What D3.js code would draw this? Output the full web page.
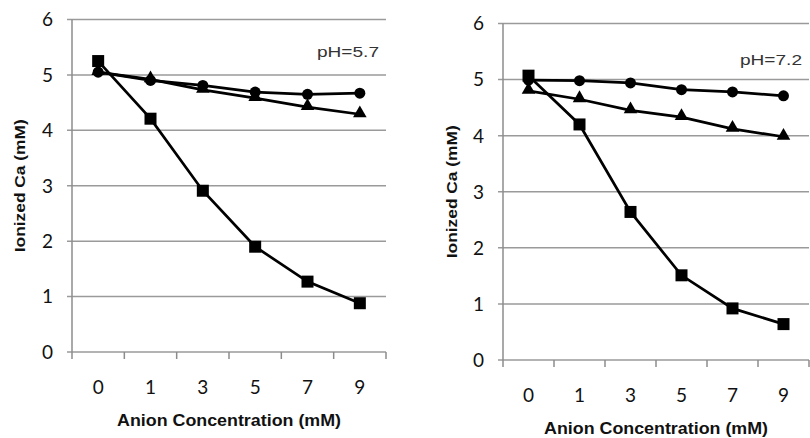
<!DOCTYPE html>
<html>
<head>
<meta charset="utf-8">
<script src="https://cdn.jsdelivr.net/npm/d3@7"></script>
<style>
  body { margin: 0; background: #fff; }
  svg { display: block; }
</style>
</head>
<body>
<svg id="chart" width="810" height="438"></svg>
<script>
// data
var categories = ["0", "1", "3", "5", "7", "9"];
var yTicks = [0, 1, 2, 3, 4, 5, 6];

var ph57Squares = [5.25, 4.21, 2.91, 1.9, 1.27, 0.88];
var ph57Circles = [5.05, 4.9, 4.81, 4.69, 4.65, 4.67];
var ph57Triangles = [5.05, 4.92, 4.73, 4.58, 4.42, 4.29];

var ph72Squares = [5.07, 4.2, 2.64, 1.51, 0.92, 0.64];
var ph72Circles = [4.99, 4.98, 4.94, 4.82, 4.78, 4.71];
var ph72Triangles = [4.8, 4.65, 4.45, 4.33, 4.12, 3.98];

var svg = d3.select("#chart");

function drawPanel(o) {
  var g = svg.append("g");

  var x = d3.scaleBand()
    .domain(categories)
    .range([o.left, o.right]);

  var y = d3.scaleLinear()
    .domain([0, 6])
    .range([o.bottom, o.top]);

  // horizontal gridlines
  g.selectAll("line.grid")
    .data(yTicks)
    .enter()
    .append("line")
    .attr("class", "grid")
    .attr("x1", o.left - 5)
    .attr("x2", o.right)
    .attr("y1", function(d) { return y(d); })
    .attr("y2", function(d) { return y(d); })
    .attr("stroke", "#9a9a9a")
    .attr("stroke-width", 1.5);

  // y axis line
  g.append("line")
    .attr("x1", o.left).attr("x2", o.left)
    .attr("y1", y(6)).attr("y2", y(0))
    .attr("stroke", "#8c8c8c")
    .attr("stroke-width", 1.5);

  // y tick labels
  g.selectAll("text.ylab")
    .data(yTicks)
    .enter()
    .append("text")
    .attr("class", "ylab")
    .attr("x", o.left - 19)
    .attr("y", function(d) { return y(d); })
    .attr("dy", "0.36em")
    .attr("text-anchor", "end")
    .attr("font-family", "Lato, 'Open Sans', sans-serif")
    .attr("font-size", 19)
    .attr("fill", "#111")
    .text(function(d) { return d; });

  // x ticks at band edges
  var edges = categories.map(function(c) { return x(c); }).concat([o.right]);
  g.selectAll("line.xtick")
    .data(edges)
    .enter()
    .append("line")
    .attr("class", "xtick")
    .attr("x1", function(d) { return d; })
    .attr("x2", function(d) { return d; })
    .attr("y1", y(0))
    .attr("y2", y(0) + 7)
    .attr("stroke", "#8c8c8c")
    .attr("stroke-width", 1.5);

  // x tick labels
  g.selectAll("text.xlab")
    .data(categories)
    .enter()
    .append("text")
    .attr("class", "xlab")
    .attr("x", function(d) { return x(d) + x.bandwidth() / 2; })
    .attr("y", y(0) + 35)
    .attr("dy", "0.36em")
    .attr("text-anchor", "middle")
    .attr("font-family", "Lato, 'Open Sans', sans-serif")
    .attr("font-size", 19)
    .attr("fill", "#111")
    .text(function(d) { return d; });

  // axis titles
  g.append("text")
    .attr("x", (o.left + o.right) / 2)
    .attr("y", y(0) + 68)
    .attr("dy", "0.36em")
    .attr("text-anchor", "middle")
    .attr("font-family", "'Liberation Sans', Arial, sans-serif")
    .attr("font-weight", "bold")
    .attr("font-size", 16)
    .attr("textLength", 224)
    .attr("lengthAdjust", "spacingAndGlyphs")
    .attr("fill", "#111")
    .text("Anion Concentration (mM)");

  g.append("text")
    .attr("transform", "translate(" + o.ytitleX + "," + ((y(0) + y(6)) / 2) + ") rotate(-90)")
    .attr("dy", "0.36em")
    .attr("text-anchor", "middle")
    .attr("font-family", "'Liberation Sans', Arial, sans-serif")
    .attr("font-weight", "bold")
    .attr("font-size", 15)
    .attr("textLength", 133)
    .attr("lengthAdjust", "spacingAndGlyphs")
    .attr("fill", "#111")
    .text("Ionized Ca (mM)");

  // pH label
  g.append("text")
    .attr("x", o.right - 7)
    .attr("y", y(o.labelY))
    .attr("dy", "0.36em")
    .attr("text-anchor", "end")
    .attr("font-family", "'Liberation Sans', Arial, sans-serif")
    .attr("font-size", 15)
    .attr("textLength", 62)
    .attr("lengthAdjust", "spacingAndGlyphs")
    .attr("fill", "#333")
    .text(o.label);

  var cx = function(d, i) { return x(categories[i]) + x.bandwidth() / 2; };

  var line = d3.line()
    .x(function(d, i) { return cx(d, i); })
    .y(function(d) { return y(d); });

  [o.triangles, o.circles, o.squares].forEach(function(s) {
    g.append("path")
      .datum(s)
      .attr("d", line)
      .attr("fill", "none")
      .attr("stroke", "#000")
      .attr("stroke-width", 2.7);
  });

  var tri = d3.symbol().type(d3.symbolTriangle).size(80);
  g.selectAll("path.tri")
    .data(o.triangles)
    .enter()
    .append("path")
    .attr("class", "tri")
    .attr("d", tri)
    .attr("transform", function(d, i) { return "translate(" + cx(d, i) + "," + (y(d) - 1) + ")"; })
    .attr("fill", "#000");

  g.selectAll("circle.dot")
    .data(o.circles)
    .enter()
    .append("circle")
    .attr("class", "dot")
    .attr("cx", cx)
    .attr("cy", function(d) { return y(d); })
    .attr("r", 5.5)
    .attr("fill", "#000");

  g.selectAll("rect.sq")
    .data(o.squares)
    .enter()
    .append("rect")
    .attr("class", "sq")
    .attr("x", function(d, i) { return cx(d, i) - 6; })
    .attr("y", function(d) { return y(d) - 6; })
    .attr("width", 12)
    .attr("height", 12)
    .attr("fill", "#000");
}

drawPanel({
  left: 72, right: 386, top: 19.5, bottom: 352, ytitleX: 20,
  label: "pH=5.7", labelY: 5.42,
  squares: ph57Squares, circles: ph57Circles, triangles: ph57Triangles
});

drawPanel({
  left: 503, right: 809, top: 23.5, bottom: 360, ytitleX: 452,
  label: "pH=7.2", labelY: 5.35,
  squares: ph72Squares, circles: ph72Circles, triangles: ph72Triangles
});
</script>
</body>
</html>
